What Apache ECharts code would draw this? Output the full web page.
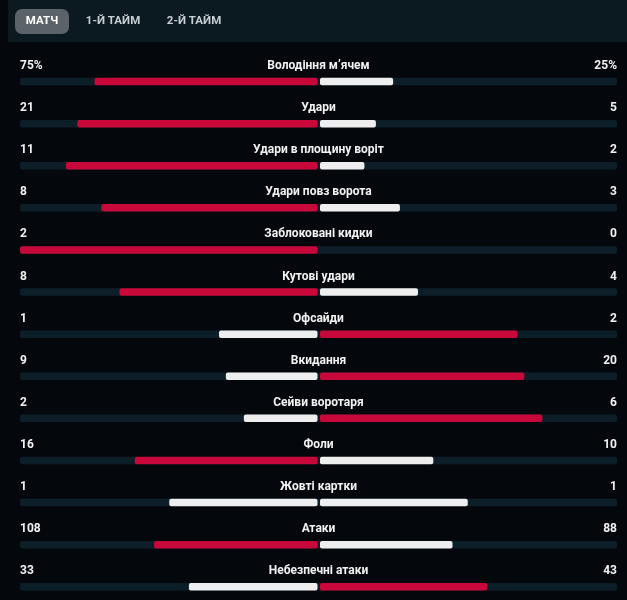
<!DOCTYPE html>
<html>
<head>
<meta charset="utf-8">
<script src="https://cdn.jsdelivr.net/npm/echarts@6/dist/echarts.min.js"></script>
<style>
html,body{margin:0;padding:0;background:#04080c;}
#c{width:627px;height:600px;}
</style>
</head>
<body>
<div id="c"></div>
<script>
var tabs = ['МАТЧ', '1-Й ТАЙМ', '2-Й ТАЙМ'];
var categories = ['Володіння м\u2019ячем', 'Удари', 'Удари в площину воріт', 'Удари повз ворота', 'Заблоковані кидки', 'Кутові удари', 'Офсайди', 'Вкидання', 'Сейви воротаря', 'Фоли', 'Жовті картки', 'Атаки', 'Небезпечні атаки'];
var homeValues = [75, 21, 11, 8, 2, 8, 1, 9, 2, 16, 1, 108, 33];
var awayValues = [25, 5, 2, 3, 0, 4, 2, 20, 6, 10, 1, 88, 43];
var homeLabels = ['75%', '21', '11', '8', '2', '8', '1', '9', '2', '16', '1', '108', '33'];
var awayLabels = ['25%', '5', '2', '3', '0', '4', '2', '20', '6', '10', '1', '88', '43'];

var RED = '#c8083a', WHITE = '#eeeeee', TRACK = '#0c1f28', TEXT = '#f2f2f2';
var FONT = 'Roboto, "Noto Sans", sans-serif';

var data = categories.map(function (c, i) {
  return [i, homeValues[i], awayValues[i]];
});

function renderItem(params, api) {
  var i = api.value(0), l = api.value(1), r = api.value(2);
  var idx = params.dataIndex;
  var tot = l + r;
  var ls = tot ? l / tot : 0, rs = tot ? r / tot : 0;
  var c0 = api.coord([0, i]), cl = api.coord([-ls, i]), cr = api.coord([rs, i]);
  var cmin = api.coord([-1, i]), cmax = api.coord([1, i]);
  var h = 7.5, y = c0[1] - h / 2;
  var lc = l > r ? RED : WHITE, rc = r > l ? RED : WHITE;
  var ty = c0[1] - 15.5;
  var children = [
    {type: 'rect', shape: {x: cmin[0], y: y, width: cmax[0] - cmin[0], height: h, r: 2}, style: {fill: TRACK}}
  ];
  if (ls > 0) children.push({type: 'rect', shape: {x: cl[0], y: y, width: c0[0] - 1 - cl[0], height: h, r: 2}, style: {fill: lc}});
  if (rs > 0) children.push({type: 'rect', shape: {x: c0[0] + 1.5, y: y, width: cr[0] - c0[0] - 1.5, height: h, r: 2}, style: {fill: rc}});
  children.push({type: 'text', style: {x: cmin[0], y: ty, text: homeLabels[idx], fill: TEXT, font: 'bold 12px ' + FONT, textAlign: 'left', textVerticalAlign: 'middle'}});
  children.push({type: 'text', style: {x: c0[0], y: ty, text: categories[idx], fill: TEXT, font: 'bold 12px ' + FONT, textAlign: 'center', textVerticalAlign: 'middle'}});
  children.push({type: 'text', style: {x: cmax[0], y: ty, text: awayLabels[idx], fill: TEXT, font: 'bold 12px ' + FONT, textAlign: 'right', textVerticalAlign: 'middle'}});
  return {type: 'group', children: children};
}

var tabX = [42, 113, 194];
var graphics = [
  {type: 'rect', shape: {x: 8, y: 0, width: 619, height: 42}, style: {fill: '#0b1a21'}},
  {type: 'rect', shape: {x: 15, y: 9, width: 54, height: 25, r: 7}, style: {fill: '#5c6368'}}
];
tabs.forEach(function (t, k) {
  graphics.push({type: 'text', x: tabX[k], y: 21.5, style: {text: t, fill: k === 0 ? '#ffffff' : '#c9ced2', font: 'bold 11.5px ' + FONT, textAlign: 'center', textVerticalAlign: 'middle'}});
});

var chart = echarts.init(document.getElementById('c'), null, {renderer: 'canvas'});
chart.setOption({
  backgroundColor: '#04080c',
  animation: false,
  graphic: graphics,
  grid: {left: 20, right: 10, top: 60.5, bottom: 0},
  xAxis: {type: 'value', min: -1, max: 1, show: false},
  yAxis: {type: 'value', min: -0.5, max: 12.315, inverse: true, show: false},
  series: [{
    type: 'custom',
    renderItem: renderItem,
    data: data,
    encode: {x: [], y: 0}
  }]
});
</script>
</body>
</html>
